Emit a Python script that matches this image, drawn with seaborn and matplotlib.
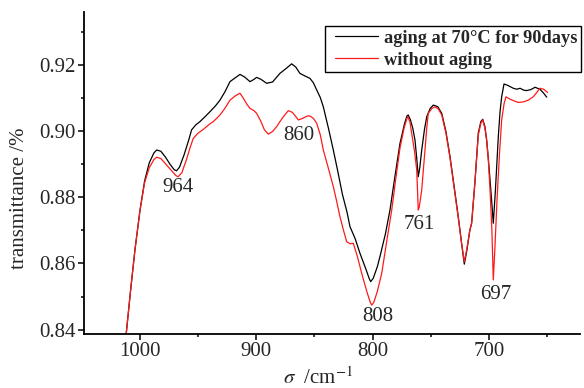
import matplotlib
matplotlib.use("Agg")
import matplotlib.pyplot as plt
import seaborn as sns
import pandas as pd
from matplotlib.ticker import MultipleLocator
from matplotlib.legend_handler import HandlerLine2D
from matplotlib.lines import Line2D

# Wavenumber (cm^-1) and transmittance
aged_x = [1012.0, 1008, 1004.3, 1000, 996, 992, 988, 985.6, 982, 978, 974, 970.5, 968.5, 966,
          962, 958, 955.6, 952, 948.4, 944, 939.8, 935, 931.2, 927, 922.6, 918, 914.0, 910,
          905.4, 902, 899.7, 896, 891.1, 886, 879.7, 874, 869.6, 866, 862.5, 858, 853.9, 851,
          848.1, 845, 842.4, 838, 833.8, 830, 826, 822, 819.5, 815, 810.9, 806, 803, 801.7,
          799.5, 796, 793.7, 789, 785.1, 781, 776.5, 772.5, 770.5, 769.4, 767.5, 765.5, 763.6,
          762, 760.8, 759.5, 757.8, 755.5, 753.5, 750.5, 747.9, 744, 740.6, 737, 733.5, 730,
          726.4, 723.5, 721.2, 719, 716.5, 714.9, 712, 709.2, 707, 705.4, 703.5, 702.0, 700.5,
          699.1, 697.5, 696.3, 694.5, 692.0, 690.5, 689.1, 687.1, 684, 679.1, 676, 673.3, 670,
          667.6, 664, 660.4, 656.2, 653, 650.4]
aged_y = [0.8380, 0.8520, 0.8641, 0.8760, 0.8850, 0.8905, 0.8935, 0.8944, 0.8940, 0.8922,
          0.8900, 0.8884, 0.8881, 0.8892, 0.8930, 0.8975, 0.9005, 0.9020, 0.9030, 0.9045,
          0.9060, 0.9078, 0.9095, 0.9120, 0.9151, 0.9163, 0.9173, 0.9165, 0.9151, 0.9158,
          0.9164, 0.9158, 0.9146, 0.9150, 0.9176, 0.9192, 0.9205, 0.9195, 0.9176, 0.9168,
          0.9161, 0.9148, 0.9126, 0.9103, 0.9075, 0.9010, 0.8944, 0.8880, 0.8810, 0.8755,
          0.8712, 0.8675, 0.8631, 0.8585, 0.8555, 0.8545, 0.8555, 0.8590, 0.8621, 0.8690,
          0.8762, 0.8860, 0.8964, 0.9025, 0.9047, 0.9050, 0.9035, 0.9010, 0.8974, 0.8915,
          0.8863, 0.8890, 0.8944, 0.9005, 0.9045, 0.9070, 0.9080, 0.9075, 0.9055, 0.9000,
          0.8924, 0.8835, 0.8742, 0.8660, 0.8598, 0.8640, 0.8700, 0.8722, 0.8850, 0.8995,
          0.9030, 0.9037, 0.9015, 0.8974, 0.8915, 0.8853, 0.8780, 0.8722, 0.8820, 0.8984,
          0.9060, 0.9105, 0.9144, 0.9140, 0.9131, 0.9128, 0.9131, 0.9125, 0.9124, 0.9127,
          0.9134, 0.9128, 0.9116, 0.9104]

fresh_x = [1012.0, 1008, 1004.3, 1000, 996, 992, 988, 985.6, 982, 978, 973, 969, 967.1, 964,
           960, 957, 954.2, 950, 945, 941, 937.0, 934, 931.2, 927, 922.6, 918, 914.0, 911, 908,
           905.4, 902, 899.7, 896, 893, 889.7, 886, 882, 879.7, 876, 872.5, 869, 866, 863.9,
           860, 856, 853.9, 851, 848.1, 845, 842.4, 838, 833.8, 831, 828.1, 825, 822.3, 819.5,
           816.6, 813, 809.4, 805, 802, 800.8, 799, 796, 792.2, 788, 783.6, 780, 776.5, 773,
           770.5, 769.9, 768, 766.2, 764, 762.1, 761.3, 760.8, 760, 757.8, 756.5, 755.0, 753.5,
           752.2, 749, 746.4, 743.5, 740.6, 737, 733.5, 730, 726.4, 723.5, 721.2, 719, 716.5,
           714.9, 712, 709.2, 707, 705.4, 703.5, 702.0, 700.5, 699.1, 697.5, 696.3, 695, 693.1,
           691, 689.1, 687, 685.4, 682, 678, 674.8, 670, 666.2, 662, 659, 656.2, 653, 649.6]
fresh_y = [0.8380, 0.8520, 0.8641, 0.8760, 0.8845, 0.8890, 0.8915, 0.8922, 0.8918, 0.8902,
           0.8882, 0.8866, 0.8863, 0.8875, 0.8915, 0.8950, 0.8979, 0.8995, 0.9008, 0.9020,
           0.9030, 0.9040, 0.9050, 0.9070, 0.9095, 0.9108, 0.9116, 0.9100, 0.9082, 0.9070,
           0.9063, 0.9055, 0.9030, 0.9005, 0.8992, 0.9000, 0.9017, 0.9030, 0.9048, 0.9063,
           0.9058, 0.9045, 0.9035, 0.9040, 0.9047, 0.9047, 0.9040, 0.9025, 0.8990, 0.8944,
           0.8888, 0.8833, 0.8790, 0.8742, 0.8700, 0.8666, 0.8660, 0.8661, 0.8620, 0.8570,
           0.8515, 0.8482, 0.8474, 0.8482, 0.8515, 0.8570, 0.8665, 0.8762, 0.8860, 0.8950,
           0.9010, 0.9040, 0.9045, 0.9030, 0.8989, 0.8940, 0.8883, 0.8810, 0.8762, 0.8770,
           0.8823, 0.8880, 0.8944, 0.9010, 0.9055, 0.9070, 0.9075, 0.9068, 0.9050, 0.8995,
           0.8920, 0.8830, 0.8738, 0.8660, 0.8605, 0.8645, 0.8700, 0.8723, 0.8850, 0.8989,
           0.9025, 0.9035, 0.9010, 0.8974, 0.8910, 0.8823, 0.8700, 0.8550, 0.8640, 0.8793,
           0.8930, 0.9035, 0.9085, 0.9105, 0.9098, 0.9092, 0.9088, 0.9090, 0.9095, 0.9105,
           0.9118, 0.9131, 0.9128, 0.9118]

series_labels = ["aging at 70°C for 90days", "without aging"]
peak_labels = ["964", "860", "808", "761", "697"]
peak_x = [967.1, 863.5, 795.8, 760.2, 694.4]
peak_y = [0.8829, 0.8987, 0.8439, 0.8717, 0.8505]

sns.set_style("ticks")
plt.rcParams["font.family"] = ["Liberation Serif", "DejaVu Serif"]
plt.rcParams["mathtext.fontset"] = "stix"

df = pd.concat([
    pd.DataFrame({"x": aged_x, "y": aged_y, "s": series_labels[0]}),
    pd.DataFrame({"x": fresh_x, "y": fresh_y, "s": series_labels[1]}),
])

fig = plt.figure(figsize=(5.84, 3.88), dpi=100)
ax = fig.add_axes([0.1438, 0.1392, 0.8493, 0.8299])
sns.lineplot(data=df, x="x", y="y", hue="s", sort=False, estimator=None,
             palette={series_labels[0]: "black", series_labels[1]: "#ff1a1a"},
             linewidth=0.9, ax=ax)

ax.set_xlim(1048.1, 621.8)
ax.set_ylim(0.83864, 0.93621)
ax.xaxis.set_major_locator(MultipleLocator(100))
ax.xaxis.set_minor_locator(MultipleLocator(50))
ax.yaxis.set_major_locator(MultipleLocator(0.02))
ax.yaxis.set_minor_locator(MultipleLocator(0.01))
ax.tick_params(axis="both", which="major", length=4, width=1.1, labelsize=15, direction="out", pad=2, color="black")
ax.tick_params(axis="both", which="minor", length=2.5, width=1.1, direction="out", color="black")
ax.set_yticks([0.84, 0.86, 0.88, 0.90, 0.92])
ax.set_yticklabels(["0.84", "0.86", "0.88", "0.90", "0.92"])
ax.set_xticks([1000, 900, 800, 700])
ax.set_xticklabels(["1000", "900", "800", "700"])

sns.despine(ax=ax)
for sp in ["left", "bottom"]:
    ax.spines[sp].set_linewidth(1.3)
    ax.spines[sp].set_color("black")

ax.set_xlabel(r"$\sigma$  /cm$^{-1}$", fontsize=15)
ax.xaxis.label.set_va("center")
ax.xaxis.set_label_coords(0.472, -0.137)
ax.set_ylabel("transmittance /%", fontsize=15)
ax.yaxis.label.set_va("center")
ax.yaxis.label.set_ha("center")
ax.yaxis.set_label_coords(-0.129, 0.422)

for t, x, y in zip(peak_labels, peak_x, peak_y):
    ax.text(x, y, t, fontsize=15, ha="center", va="center")

handles = [Line2D([], [], color="black", linewidth=0.9),
           Line2D([], [], color="#ff1a1a", linewidth=0.9)]
leg = ax.legend(handles, series_labels, loc="upper right", bbox_to_anchor=(0.995, 0.933),
                bbox_transform=fig.transFigure,
                frameon=True, fancybox=False, edgecolor="black", framealpha=1,
                prop={"size": 13.2, "weight": "bold"}, handlelength=2.7, handletextpad=0.33,
                labelspacing=0.28, borderpad=0.2, borderaxespad=0,
                handler_map={Line2D: HandlerLine2D(xpad=0.35)})
leg.get_frame().set_linewidth(1.0)

fig.savefig("out.png", dpi=100)
